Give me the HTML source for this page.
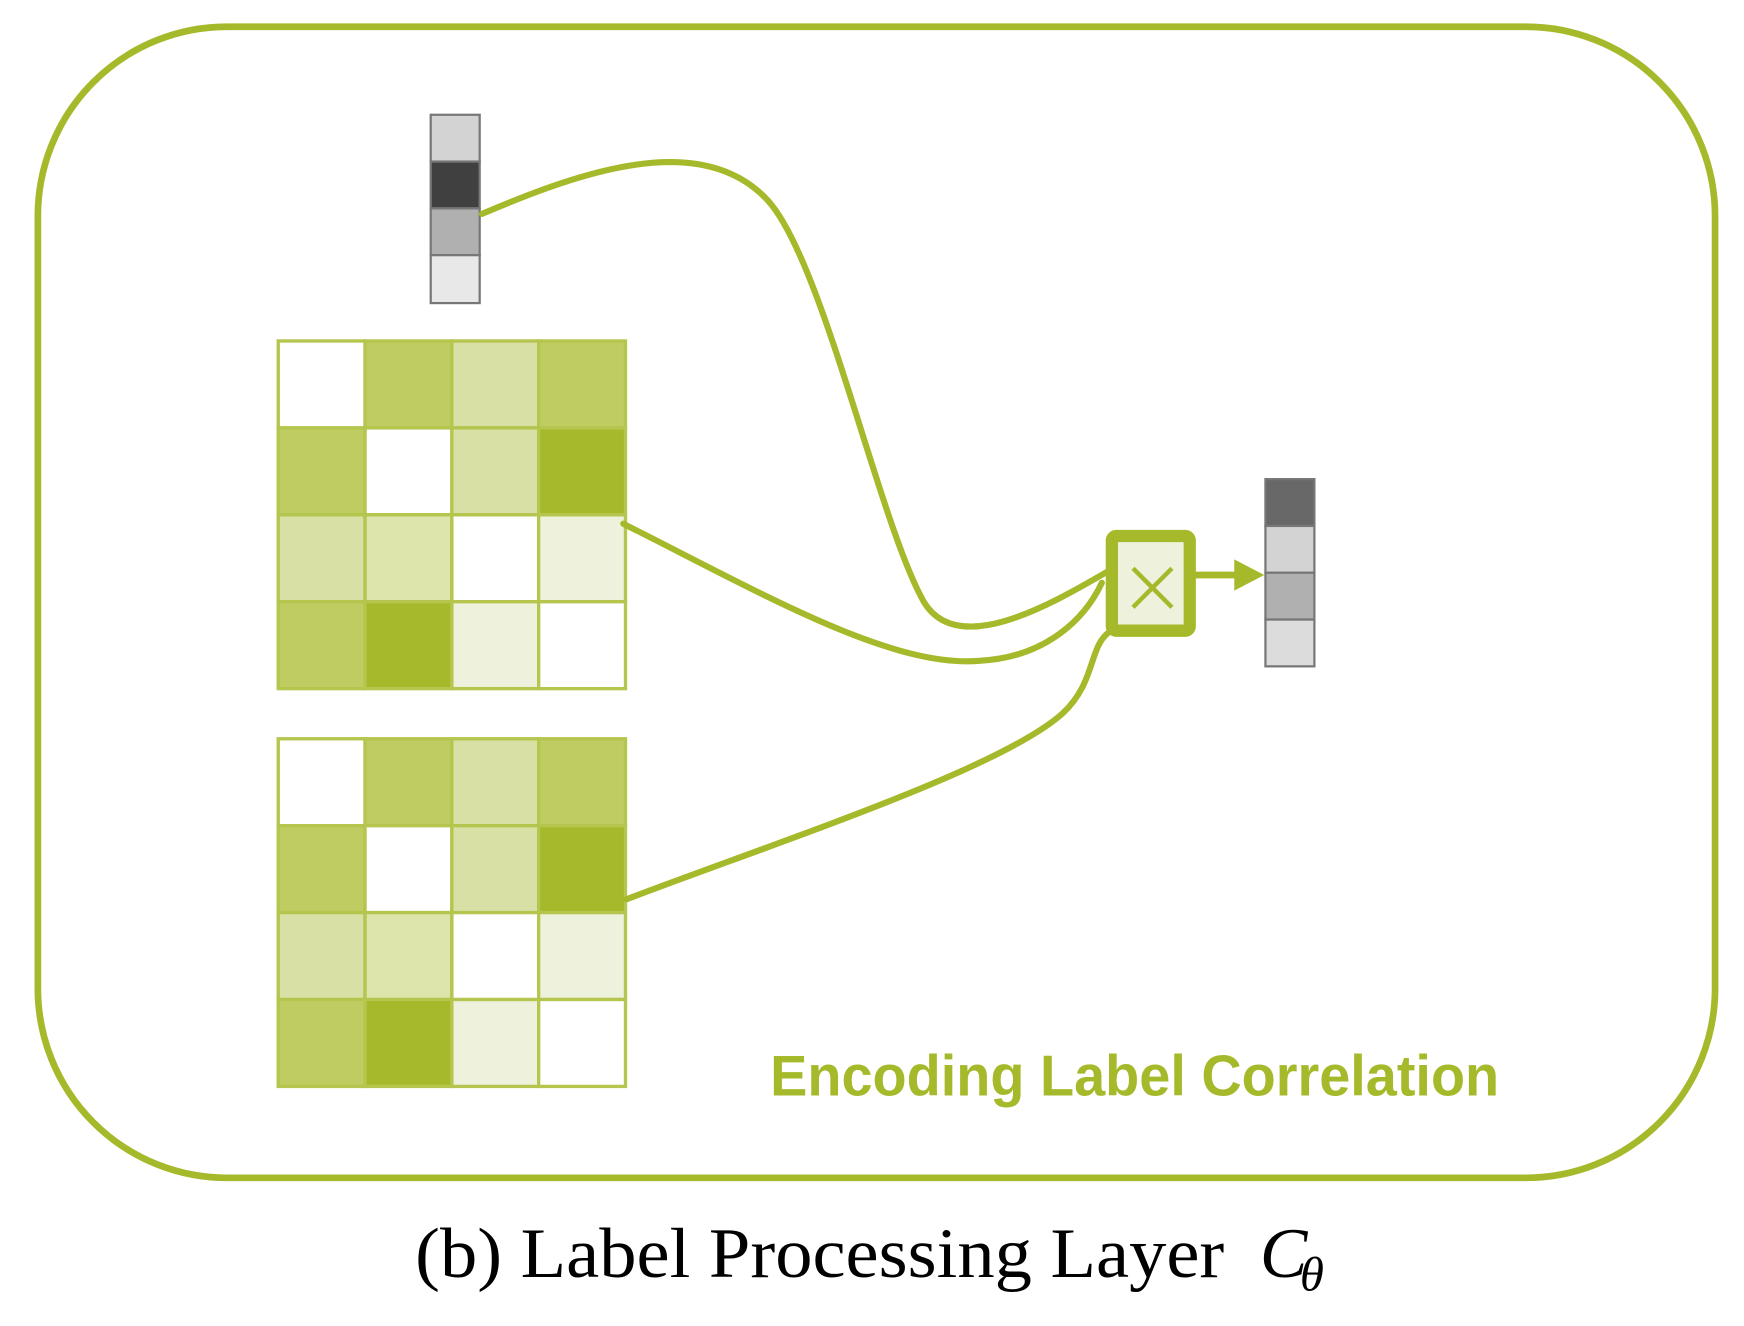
<!DOCTYPE html>
<html><head><style>html,body{margin:0;padding:0;background:#fff}svg{display:block}</style></head>
<body>
<svg width="1744" height="1326" viewBox="0 0 1567 1190" preserveAspectRatio="none" xmlns="http://www.w3.org/2000/svg">
<rect x="34" y="24" width="1507" height="1033" rx="170" ry="170" fill="none" stroke="#a6b92a" stroke-width="6"/>
<g stroke="#777" stroke-width="2">
<rect x="387" y="103" width="44" height="42" fill="#d3d3d3"/>
<rect x="387" y="145" width="44" height="42" fill="#404040"/>
<rect x="387" y="187" width="44" height="42" fill="#b0b0b0"/>
<rect x="387" y="229" width="44" height="43" fill="#e8e8e8"/>
<rect x="1137" y="430" width="44" height="42" fill="#686868"/>
<rect x="1137" y="472" width="44" height="42" fill="#d3d3d3"/>
<rect x="1137" y="514" width="44" height="42" fill="#b0b0b0"/>
<rect x="1137" y="556" width="44" height="42" fill="#dcdcdc"/>
</g>
<g id="m1" stroke="#b5c54d" stroke-width="3">
<rect x="250" y="306" width="78" height="78" fill="#fff"/>
<rect x="328" y="306" width="78" height="78" fill="#bfcc62"/>
<rect x="406" y="306" width="78" height="78" fill="#d8e0a6"/>
<rect x="484" y="306" width="78" height="78" fill="#bfcc62"/>
<rect x="250" y="384" width="78" height="78" fill="#bfcc62"/>
<rect x="328" y="384" width="78" height="78" fill="#fff"/>
<rect x="406" y="384" width="78" height="78" fill="#d8e0a6"/>
<rect x="484" y="384" width="78" height="78" fill="#a6b92a"/>
<rect x="250" y="462" width="78" height="78" fill="#d8e0a6"/>
<rect x="328" y="462" width="78" height="78" fill="#dde5ad"/>
<rect x="406" y="462" width="78" height="78" fill="#fff"/>
<rect x="484" y="462" width="78" height="78" fill="#eef2dc"/>
<rect x="250" y="540" width="78" height="78" fill="#bfcc62"/>
<rect x="328" y="540" width="78" height="78" fill="#a6b92a"/>
<rect x="406" y="540" width="78" height="78" fill="#eef2dc"/>
<rect x="484" y="540" width="78" height="78" fill="#fff"/>
</g>
<use href="#m1" transform="translate(0,357)"/>
<g fill="none" stroke="#a6b92a" stroke-width="5.5" stroke-linecap="round">
<path d="M433,192 C520,155 630,115 690,180 C740,235 790,470 830,540 C860,590 940,545 995,513"/>
<path d="M560,470 C680,530 800,600 880,593 C940,590 975,555 990,523"/>
<path d="M563,807 C700,755 900,690 955,640 C985,612 978,580 997,567"/>
</g>
<rect x="999" y="481" width="70" height="85" rx="4" fill="#eef2dc" stroke="#a6b92a" stroke-width="11"/>
<path d="M1018,510 L1053,545 M1053,510 L1018,545" stroke="#a6b92a" stroke-width="4"/>
<line x1="1070" y1="516" x2="1112" y2="516" stroke="#a6b92a" stroke-width="6"/>
<polygon points="1109,502 1136,516 1109,530" fill="#a6b92a"/>
<text x="692" y="983" font-family="Liberation Sans, sans-serif" font-weight="bold" font-size="52" fill="#a6b92a" textLength="655" lengthAdjust="spacingAndGlyphs">Encoding Label Correlation</text>
<text x="373" y="1146" font-family="Liberation Serif, serif" font-size="64" fill="#000" textLength="727" lengthAdjust="spacingAndGlyphs">(b) Label Processing Layer</text>
<text x="1132" y="1146" font-family="Liberation Serif, serif" font-style="italic" font-size="64" fill="#000">C</text>
<text x="1168" y="1158" font-family="Liberation Serif, serif" font-style="italic" font-size="44" fill="#000">θ</text>
</svg>
</body></html>
